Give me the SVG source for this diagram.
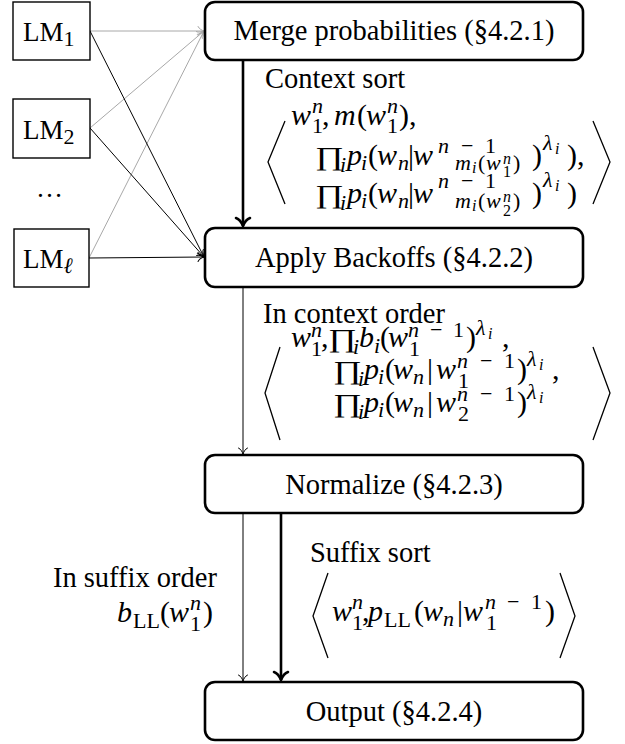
<svg xmlns="http://www.w3.org/2000/svg" width="625" height="744" viewBox="0 0 625 744" font-family="'Liberation Serif', 'DejaVu Serif', serif">
<style>
.f{font-family:'Liberation Serif','DejaVu Serif',serif;fill:#000}
.t{font-size:28.5px}
.lt{font-size:27px}
.m{font-size:30px;font-style:italic}
.u{font-style:normal}
.s{font-size:22px}
.ss{font-size:16px}
.pr{font-size:26px;font-style:normal}
.box{fill:#fff;stroke:#000;stroke-width:2.6}
.lm{fill:#fff;stroke:#000;stroke-width:1.4}
.thin{stroke:#000;stroke-width:1;fill:none}
.gray{stroke:#a8a8a8;stroke-width:1;fill:none}
.thick{stroke:#000;stroke-width:2.6;fill:none}
.br{stroke:#000;stroke-width:1.3;fill:none;stroke-linejoin:miter}
</style>
<defs>
<marker id="ah" markerUnits="userSpaceOnUse" markerWidth="12" markerHeight="12" refX="0" refY="0" orient="auto" overflow="visible">
<path d="M -6,-4.5 C -5,-2 -1.5,-0.5 0,0 C -1.5,0.5 -5,2 -6,4.5" fill="none" stroke="#000" stroke-width="1" stroke-linecap="round"/>
</marker>
<marker id="ahg" markerUnits="userSpaceOnUse" markerWidth="12" markerHeight="12" refX="0" refY="0" orient="auto" overflow="visible">
<path d="M -6,-4.5 C -5,-2 -1.5,-0.5 0,0 C -1.5,0.5 -5,2 -6,4.5" fill="none" stroke="#a8a8a8" stroke-width="1" stroke-linecap="round"/>
</marker>
<marker id="aht" markerUnits="userSpaceOnUse" markerWidth="20" markerHeight="20" refX="0" refY="0" orient="auto" overflow="visible">
<path d="M -8,-7 C -6.5,-3 -2,-0.8 0,0 C -2,0.8 -6.5,3 -8,7" fill="none" stroke="#000" stroke-width="2.6" stroke-linecap="round" stroke-linejoin="round"/>
</marker>
</defs>

<g id="connectors">
<line class="gray" x1="90" y1="31" x2="204" y2="31" marker-end="url(#ahg)"/>
<line class="gray" x1="90" y1="128" x2="204" y2="31" marker-end="url(#ahg)"/>
<line class="gray" x1="89" y1="258" x2="204" y2="31" marker-end="url(#ahg)"/>
<line class="thin" x1="90" y1="31" x2="204" y2="257" marker-end="url(#ah)"/>
<line class="thin" x1="90" y1="128" x2="204" y2="257" marker-end="url(#ah)"/>
<line class="thin" x1="89" y1="258" x2="204" y2="257" marker-end="url(#ah)"/>
<line class="thick" x1="243" y1="60" x2="243" y2="226" marker-end="url(#aht)"/>
<line class="thin" x1="243" y1="287" x2="243" y2="454" marker-end="url(#ah)"/>
<line class="thin" x1="243" y1="513" x2="243" y2="681" marker-end="url(#ah)"/>
<line class="thick" x1="281" y1="513" x2="281" y2="680" marker-end="url(#aht)"/>
</g>

<g id="lm1">
<rect class="lm" x="13" y="2" width="77" height="58"/>
<text class="f lt" x="23" y="41">LM<tspan class="s" dy="5">1</tspan></text>
</g>
<g id="lm2">
<rect class="lm" x="13" y="99" width="77" height="59"/>
<text class="f lt" x="23" y="139">LM<tspan class="s" dy="5">2</tspan></text>
</g>
<g id="dots">
<text class="f lt" x="36" y="197">…</text>
</g>
<g id="lml">
<rect class="lm" x="14" y="229" width="75" height="58"/>
<text class="f lt" x="23" y="268">LM<tspan class="s" dy="5" font-style="italic">ℓ</tspan></text>
</g>

<g id="merge">
<rect class="box" x="205" y="2" width="378" height="58" rx="10"/>
<text class="f t" x="394" y="40" text-anchor="middle">Merge probabilities (§4.2.1)</text>
</g>
<g id="apply">
<rect class="box" x="205" y="228" width="378" height="59" rx="10"/>
<text class="f t" x="394" y="267" text-anchor="middle">Apply Backoffs (§4.2.2)</text>
</g>
<g id="normalize">
<rect class="box" x="205" y="455" width="378" height="58" rx="10"/>
<text class="f t" x="394" y="494" text-anchor="middle">Normalize (§4.2.3)</text>
</g>
<g id="output">
<rect class="box" x="205" y="682" width="378" height="58" rx="10"/>
<text class="f t" x="394" y="721" text-anchor="middle">Output (§4.2.4)</text>
</g>

<g id="label-context-sort">
<text class="f t" x="265" y="88">Context sort</text>
<path class="br" d="M285,121 L268,162 L285,204"/>
<path class="br" d="M593,121 L610,162 L593,204"/>
<text class="f m">
<tspan x="291" y="125">w</tspan><tspan class="s" x="312" y="113">n</tspan><tspan class="s u" x="312" y="133">1</tspan><tspan class="u" x="322" y="125">,</tspan>
<tspan x="334" y="125">m</tspan><tspan class="u" x="357" y="125">(</tspan><tspan x="366" y="125">w</tspan><tspan class="s" x="387" y="113">n</tspan><tspan class="s u" x="387" y="133">1</tspan><tspan class="u" x="399" y="125">),</tspan>
</text>
<text class="f pr" transform="translate(315,165) scale(1.35,1)">∏</text>
<text class="f m">
<tspan class="s" x="340" y="172">i</tspan>
<tspan x="347" y="165">p</tspan><tspan class="s" x="361" y="170">i</tspan><tspan class="u" x="368" y="165">(</tspan><tspan x="377" y="165">w</tspan><tspan class="s" x="398" y="170">n</tspan><tspan class="u" x="408" y="165">|</tspan><tspan x="413" y="165">w</tspan>
<tspan class="s" x="438" y="153">n</tspan><tspan class="s u" x="461" y="153">−</tspan><tspan class="s u" x="485" y="153">1</tspan>
<tspan class="s" x="455" y="170">m</tspan><tspan class="ss" x="472" y="173">i</tspan><tspan class="s u" x="478" y="170">(</tspan><tspan class="s" x="486" y="170">w</tspan><tspan class="ss" x="503" y="164">n</tspan><tspan class="ss u" x="503" y="177">1</tspan><tspan class="s u" x="513" y="170">)</tspan>
<tspan class="u" x="532" y="165">)</tspan><tspan class="s" x="543" y="150">λ</tspan><tspan class="ss" x="555" y="154">i</tspan><tspan class="u" x="567" y="165">),</tspan>
</text>
<text class="f pr" transform="translate(315,203) scale(1.35,1)">∏</text>
<text class="f m">
<tspan class="s" x="340" y="210">i</tspan>
<tspan x="347" y="203">p</tspan><tspan class="s" x="361" y="208">i</tspan><tspan class="u" x="368" y="203">(</tspan><tspan x="377" y="203">w</tspan><tspan class="s" x="398" y="208">n</tspan><tspan class="u" x="408" y="203">|</tspan><tspan x="413" y="203">w</tspan>
<tspan class="s" x="438" y="188">n</tspan><tspan class="s u" x="461" y="188">−</tspan><tspan class="s u" x="485" y="188">1</tspan>
<tspan class="s" x="455" y="208">m</tspan><tspan class="ss" x="472" y="211">i</tspan><tspan class="s u" x="478" y="208">(</tspan><tspan class="s" x="486" y="208">w</tspan><tspan class="ss" x="503" y="202">n</tspan><tspan class="ss u" x="503" y="216">2</tspan><tspan class="s u" x="513" y="208">)</tspan>
<tspan class="u" x="532" y="203">)</tspan><tspan class="s" x="543" y="187">λ</tspan><tspan class="ss" x="555" y="191">i</tspan><tspan class="u" x="567" y="203">)</tspan>
</text>
</g>

<g id="label-context-order">
<text class="f t" x="263" y="323">In context order</text>
<path class="br" d="M280,347 L265,393 L280,440"/>
<path class="br" d="M593,347 L610,393 L593,440"/>
<text class="f m">
<tspan x="291" y="347">w</tspan><tspan class="s" x="311" y="337">n</tspan><tspan class="s u" x="311" y="356">1</tspan><tspan class="u" x="321" y="347">,</tspan>
</text>
<text class="f pr" transform="translate(328,347) scale(1.35,1)">∏</text>
<text class="f m">
<tspan class="s" x="353" y="354">i</tspan>
<tspan x="359" y="347">b</tspan><tspan class="s" x="374" y="353">i</tspan><tspan class="u" x="380" y="347">(</tspan><tspan x="388" y="347">w</tspan>
<tspan class="s" x="408" y="337">n</tspan><tspan class="s u" x="430" y="337">−</tspan><tspan class="s u" x="453" y="337">1</tspan><tspan class="s u" x="409" y="356">1</tspan>
<tspan class="u" x="466" y="347">)</tspan><tspan class="s" x="476" y="335">λ</tspan><tspan class="ss" x="488" y="339">i</tspan><tspan class="u" x="502" y="347">,</tspan>
</text>
<text class="f pr" transform="translate(333,379) scale(1.35,1)">∏</text>
<text class="f m">
<tspan class="s" x="358" y="386">i</tspan>
<tspan x="364" y="379">p</tspan><tspan class="s" x="378" y="384">i</tspan><tspan class="u" x="385" y="379">(</tspan><tspan x="393" y="379">w</tspan><tspan class="s" x="413" y="384">n</tspan><tspan class="u" x="427" y="379">|</tspan><tspan x="436" y="379">w</tspan>
<tspan class="s" x="457" y="368">n</tspan><tspan class="s u" x="480" y="368">−</tspan><tspan class="s u" x="504" y="368">1</tspan><tspan class="s u" x="458" y="388">1</tspan>
<tspan class="u" x="517" y="379">)</tspan><tspan class="s" x="527" y="366">λ</tspan><tspan class="ss" x="539" y="370">i</tspan><tspan class="u" x="552" y="379">,</tspan>
</text>
<text class="f pr" transform="translate(333,412) scale(1.35,1)">∏</text>
<text class="f m">
<tspan class="s" x="358" y="419">i</tspan>
<tspan x="364" y="412">p</tspan><tspan class="s" x="378" y="417">i</tspan><tspan class="u" x="385" y="412">(</tspan><tspan x="393" y="412">w</tspan><tspan class="s" x="413" y="417">n</tspan><tspan class="u" x="427" y="412">|</tspan><tspan x="436" y="412">w</tspan>
<tspan class="s" x="457" y="401">n</tspan><tspan class="s u" x="480" y="401">−</tspan><tspan class="s u" x="504" y="401">1</tspan><tspan class="s u" x="458" y="421">2</tspan>
<tspan class="u" x="517" y="412">)</tspan><tspan class="s" x="527" y="399">λ</tspan><tspan class="ss" x="539" y="403">i</tspan>
</text>
</g>

<g id="label-suffix-order">
<text class="f t" x="217" y="587" text-anchor="end">In suffix order</text>
<text class="f m">
<tspan x="117" y="622">b</tspan><tspan class="s u" x="133" y="628">LL</tspan><tspan class="u" x="160" y="622">(</tspan><tspan x="169" y="622">w</tspan><tspan class="s" x="190" y="610">n</tspan><tspan class="s u" x="190" y="631">1</tspan><tspan class="u" x="203" y="622">)</tspan>
</text>
</g>

<g id="label-suffix-sort">
<text class="f t" x="310" y="562">Suffix sort</text>
<path class="br" d="M328,573 L313,616 L328,658"/>
<path class="br" d="M560,573 L575,616 L560,658"/>
<text class="f m">
<tspan x="332" y="621">w</tspan><tspan class="s" x="352" y="609">n</tspan><tspan class="s u" x="352" y="630">1</tspan><tspan class="u" x="362" y="621">,</tspan>
<tspan x="368" y="621">p</tspan><tspan class="s u" x="384" y="627">LL</tspan><tspan class="u" x="414" y="621">(</tspan><tspan x="423" y="621">w</tspan><tspan class="s" x="443" y="626">n</tspan><tspan class="u" x="457" y="621">|</tspan><tspan x="463" y="621">w</tspan>
<tspan class="s" x="485" y="609">n</tspan><tspan class="s u" x="507" y="609">−</tspan><tspan class="s u" x="531" y="609">1</tspan><tspan class="s u" x="486" y="630">1</tspan>
<tspan class="u" x="545" y="621">)</tspan>
</text>
</g>
</svg>
